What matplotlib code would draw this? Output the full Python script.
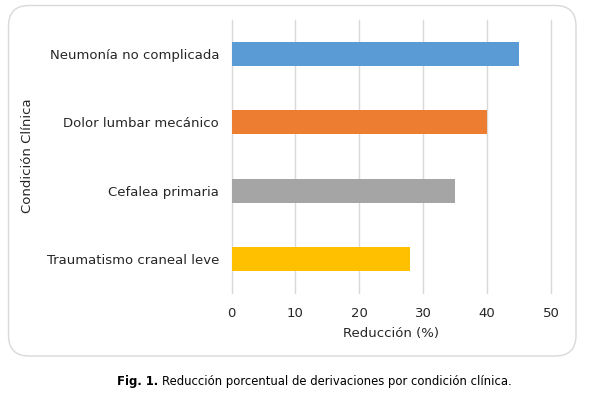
import matplotlib
matplotlib.use("Agg")
import matplotlib.pyplot as plt
from matplotlib.patches import FancyBboxPatch

condiciones = [
    "Neumonía no complicada",
    "Dolor lumbar mecánico",
    "Cefalea primaria",
    "Traumatismo craneal leve",
]
reduccion = [45, 40, 35, 28]
colores = ["#5B9BD5", "#ED7D31", "#A5A5A5", "#FFC000"]
x_ticks = [0, 10, 20, 30, 40, 50]

plt.rcParams["font.family"] = ["DejaVu Sans"]
text_color = "#262626"

fig = plt.figure(figsize=(5.89, 3.94), dpi=100)

# rounded border round the chart area, behind the axes
box = FancyBboxPatch(
    (8.5 / 589, 1 - 356 / 394), (576 - 8.5) / 589, (356 - 5.5) / 394,
    boxstyle="round,pad=0,rounding_size=0.035",
    transform=fig.transFigure, facecolor="white", edgecolor="#D9D9D9",
    linewidth=1.0, mutation_aspect=589 / 394, zorder=-1,
)
fig.add_artist(box)

ax = fig.add_axes([231.5 / 589, 1 - 293 / 394, (551 - 231.5) / 589, (293 - 20) / 394])
ax.set_facecolor("none")
ax.set_zorder(2)

pos = list(range(len(condiciones)))
ax.barh(pos, reduccion, height=0.35, color=colores, zorder=3)
ax.set_yticks(pos)
ax.set_yticklabels(condiciones, fontsize=9.5, color=text_color)
ax.set_ylim(len(condiciones) - 0.5, -0.5)
ax.set_xlim(0, 50)
ax.set_xticks(x_ticks)
ax.set_xticklabels([str(t) for t in x_ticks], fontsize=9.5, color=text_color)
ax.tick_params(axis="both", length=0)
ax.tick_params(axis="y", pad=9)
ax.tick_params(axis="x", pad=10)
ax.grid(axis="x", color="#D9D9D9", linewidth=1.0, zorder=0)
for gl in ax.get_xgridlines():
    gl.set_clip_on(False)
for s in ax.spines.values():
    s.set_visible(False)

ax.set_xlabel("Reducción (%)", fontsize=9.5, color=text_color, labelpad=5)
ax.set_ylabel("Condición Clínica", fontsize=9.5, color=text_color)
ax.yaxis.set_label_coords(34 / 589, 1 - 156 / 394, transform=fig.transFigure)

cap_y = 1 - 381 / 394
t1 = fig.text(117 / 589, cap_y, "Fig. 1.", ha="left", va="center",
              fontsize=8.4, fontweight="bold", color="black")
fig.canvas.draw()
bb = t1.get_window_extent()
fig.text((bb.x1 + 4) / 589, cap_y,
         "Reducción porcentual de derivaciones por condición clínica.",
         ha="left", va="center", fontsize=8.4, color="black")

fig.savefig("out.png", dpi=100)
